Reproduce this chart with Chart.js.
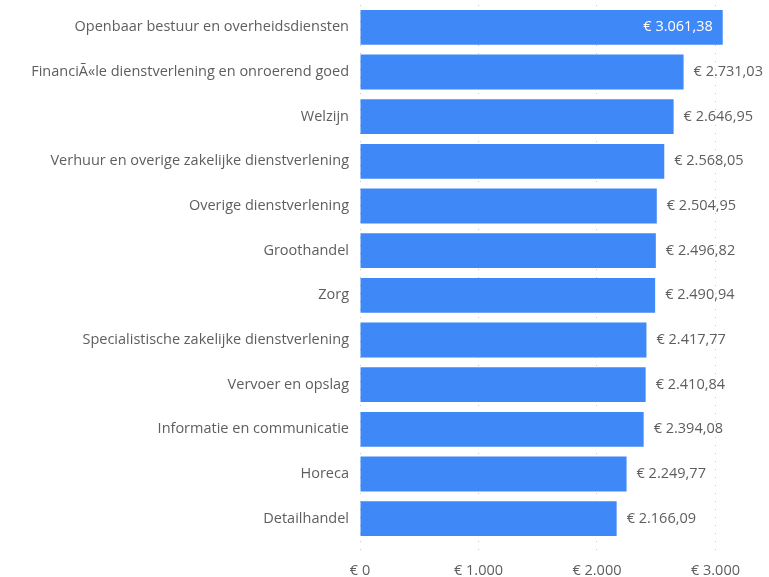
<!DOCTYPE html>
<html>
<head>
<meta charset="utf-8">
<script src="https://cdn.jsdelivr.net/npm/chart.js@4"></script>
<style>
  html, body { margin: 0; padding: 0; background: #fff; }
  #wrap { width: 769px; height: 577px; }
</style>
</head>
<body>
<div id="wrap"><canvas id="chart"></canvas></div>
<script>
const categories = [
    'Openbaar bestuur en overheidsdiensten',
    'FinanciÃ«le dienstverlening en onroerend goed',
    'Welzijn',
    'Verhuur en overige zakelijke dienstverlening',
    'Overige dienstverlening',
    'Groothandel',
    'Zorg',
    'Specialistische zakelijke dienstverlening',
    'Vervoer en opslag',
    'Informatie en communicatie',
    'Horeca',
    'Detailhandel'
];
const values = [3061.38, 2731.03, 2646.95, 2568.05, 2504.95, 2496.82, 2490.94, 2417.77, 2410.84, 2394.08, 2249.77, 2166.09];
const tickValues = [0, 1000, 2000, 3000];

const FONT = '"Open Sans", "Noto Sans", sans-serif';
const TEXT = '#605e5c';
const SIZE = 14.5;

function euro(v, decimals) {
    const parts = v.toFixed(decimals).split('.');
    const whole = parts[0].replace(/\B(?=(\d{3})+(?!\d))/g, '.');
    return '€ ' + whole + (parts[1] ? ',' + parts[1] : '');
}

// value labels, outside the bar unless there is no room
const valueLabels = {
    id: 'valueLabels',
    afterDatasetsDraw(chart) {
        const c = chart.ctx;
        const meta = chart.getDatasetMeta(0);
        c.save();
        c.font = SIZE + 'px ' + FONT;
        c.textBaseline = 'middle';
        meta.data.forEach((bar, i) => {
            const txt = euro(values[i], 2);
            const w = c.measureText(txt).width;
            if (bar.x + 10 + w > chart.width - 2) {
                c.fillStyle = '#ffffff';
                c.textAlign = 'right';
                c.fillText(txt, bar.x - 10, bar.y);
            } else {
                c.fillStyle = TEXT;
                c.textAlign = 'left';
                c.fillText(txt, bar.x + 10, bar.y);
            }
        });
        c.restore();
    }
};

new Chart(document.getElementById('chart'), {
    type: 'bar',
    data: {
        labels: categories,
        datasets: [{
            data: values,
            backgroundColor: '#3f88f8',
            barPercentage: 0.78,
            categoryPercentage: 1
        }]
    },
    options: {
        indexAxis: 'y',
        responsive: true,
        maintainAspectRatio: false,
        animation: false,
        layout: { padding: { top: 5, right: 18, bottom: 0, left: 0 } },
        plugins: { legend: { display: false }, tooltip: { enabled: false } },
        scales: {
            x: {
                min: 0,
                max: 3300,
                afterBuildTicks(scale) {
                    scale.ticks = tickValues.map(v => ({ value: v }));
                },
                afterFit(scale) { scale.height = 36; },
                border: { display: false, dash: [1, 7] },
                grid: {
                    color: '#c8c8c8',
                    lineWidth: 1,
                    tickLength: 12,
                    tickBorderDash: [1, 7]
                },
                ticks: {
                    padding: 9,
                    color: TEXT,
                    font: { family: FONT, size: SIZE },
                    callback: v => euro(v, 0)
                }
            },
            y: {
                afterFit(scale) {
                    scale.width = 360;
                    scale.paddingTop = 0;
                    scale.paddingBottom = 0;
                },
                border: { display: false },
                grid: { display: false },
                ticks: {
                    padding: 3,
                    color: TEXT,
                    font: { family: FONT, size: SIZE },
                    autoSkip: false
                }
            }
        }
    },
    plugins: [valueLabels]
});
</script>
</body>
</html>
